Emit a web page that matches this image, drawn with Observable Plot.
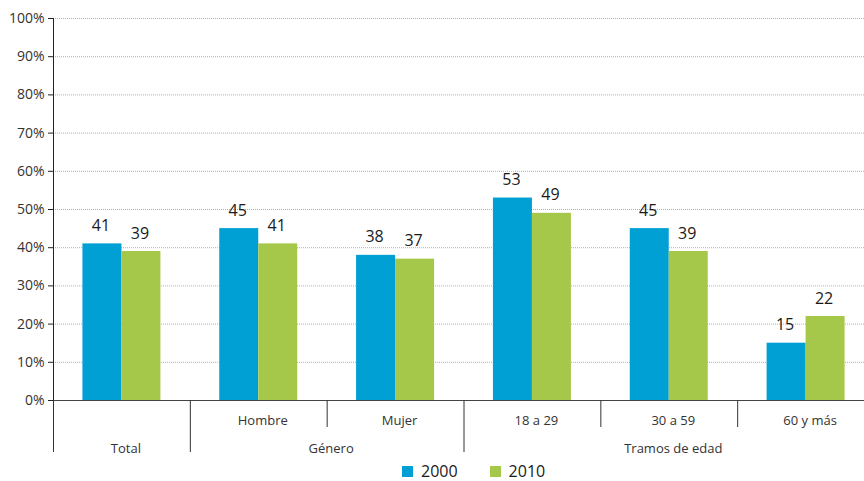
<!DOCTYPE html>
<html><head><meta charset="utf-8">
<script src="https://cdn.jsdelivr.net/npm/d3@7"></script>
<script src="https://cdn.jsdelivr.net/npm/@observablehq/plot@0.6"></script>
<style>
html,body{margin:0;padding:0;background:#fff;overflow:hidden;}
#chart svg{display:block}
.legend{display:flex;align-items:center;height:19px;line-height:19px;padding-left:402px;font-family:"Open Sans",sans-serif;font-size:16px;color:#1a1a1a}
.legend .sw{display:inline-block;width:11px;height:11px;margin-right:8px}
.legend .lab{margin-right:32px}
</style>
</head><body>
<div id="chart"></div>
<script>
const categories = ["Total","Hombre","Mujer","18 a 29","30 a 59","60 y más"];
const subLabels = ["","Hombre","Mujer","18 a 29","30 a 59","60 y más"];
const groups = ["Total","Género","Género","Tramos de edad","Tramos de edad","Tramos de edad"];
const years = ["2000","2010"];
const values2000 = [41,45,38,53,45,15];
const values2010 = [39,41,37,49,39,22];
const yTicks = [0,10,20,30,40,50,60,70,80,90,100];
const colors = ["#00a0d4","#a6c84a"];

const barW = 0.285;
const bars = [];
categories.forEach((c,i)=>{
  years.forEach((yr,j)=>{
    const v = j===0 ? values2000[i] : values2010[i];
    const x1 = i + 0.5 + (j-1)*barW;
    bars.push({cat:c, year:yr, value:v, x1, x2:x1+barW, xm:x1+barW/2});
  });
});
const subData = subLabels.map((t,i)=>({t, x:i+0.5})).filter(d=>d.t);
const groupData = [];
groups.forEach((g,i)=>{
  const last = groupData[groupData.length-1];
  if (last && last.g===g) last.to = i+1; else groupData.push({g, from:i, to:i+1});
});
groupData.forEach(d=>d.x=(d.from+d.to)/2);
const seps = groups.map((g,i)=>({x:i, major: i===0 || groups[i-1]!==g}));

const font = '"Open Sans",sans-serif';
const chart = Plot.plot({
  width: 864, height: 462,
  marginTop: 18, marginBottom: 62, marginLeft: 53, marginRight: 0,
  style: {fontFamily: font, fontSize: "14px", color: "#333", background: "#fff"},
  x: {type: "linear", domain: [0, 6], range: [53, 874], axis: null},
  y: {domain: [0, 100]},
  color: {domain: years, range: colors},
  marks: [
    Plot.ruleY(yTicks.filter(t=>t>0), {stroke: "#b0b0b0", strokeDasharray: "1,1"}),
    Plot.rectY(bars, {x1: "x1", x2: "x2", y: "value", fill: "year"}),
    Plot.ruleY([0], {stroke: "#444"}),
    Plot.ruleX([0], {y1: 0, y2: 100, stroke: "#222"}),
    Plot.ruleX(seps.filter(d=>d.major), {x: "x", y1: 0, y2: 0, insetBottom: -52, stroke: "#333"}),
    Plot.ruleX(seps.filter(d=>!d.major), {x: "x", y1: 0, y2: 0, insetBottom: -27, stroke: "#333"}),
    Plot.axisY({ticks: yTicks, tickFormat: d => d + "%", label: null, tickSize: 5, tickPadding: 4, stroke: "#222", fill: "#333", fontSize: 14}),
    Plot.text(bars, {x: "xm", y: "value", text: d => String(d.value), dy: -18, dx: -1.5, lineAnchor: "middle", fontSize: 16, fill: "#1a1a1a"}),
    Plot.text(subData, {x: "x", y: 0, text: "t", dy: 20, dx: 4, lineAnchor: "middle", fontSize: 13, fill: "#333"}),
    Plot.text(groupData, {x: "x", y: 0, text: "g", dy: 48, dx: 4, lineAnchor: "middle", fontSize: 13, fill: "#333"})
  ]
});
document.getElementById("chart").appendChild(chart);

const legend = document.createElement("div");
legend.className = "legend";
years.forEach((yr,i)=>{
  const sw = document.createElement("span"); sw.className = "sw"; sw.style.background = colors[i];
  const lab = document.createElement("span"); lab.className = "lab"; lab.textContent = yr;
  legend.appendChild(sw); legend.appendChild(lab);
});
document.body.appendChild(legend);
</script>
</body></html>
